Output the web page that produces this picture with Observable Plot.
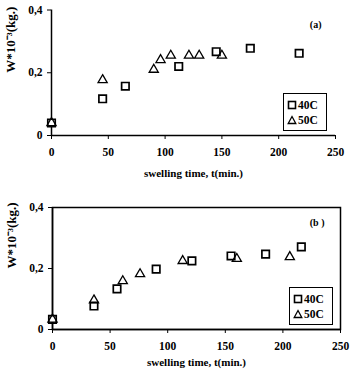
<!DOCTYPE html>
<html>
<head>
<meta charset="utf-8">
<script src="https://cdn.jsdelivr.net/npm/d3@7"></script>
<script src="https://cdn.jsdelivr.net/npm/@observablehq/plot@0.6"></script>
<style>
  body { margin: 0; background: #fff; }
  #wrap { position: relative; width: 352px; height: 370px; font-family: "Liberation Serif", serif; font-weight: bold; }
  .legend { position: absolute; border: 1.5px solid #000; background: #fff; font-size: 11.5px; box-sizing: border-box; }
  .legend .row { position: absolute; left: 3px; display: flex; align-items: center; gap: 1px; height: 12px; line-height: 12px; white-space: nowrap; }
</style>
</head>
<body>
<div id="wrap"></div>
<script>
// Panel (a)
const a40t = [0, 45, 65, 112, 145, 175, 218];
const a40w = [0.040, 0.117, 0.157, 0.220, 0.267, 0.278, 0.262];
const a50t = [0, 45, 90, 96, 105, 121, 130, 150];
const a50w = [0.040, 0.177, 0.210, 0.241, 0.255, 0.255, 0.255, 0.255];
// Panel (b)
const b40t = [0, 36, 56, 90, 121, 155, 185, 216];
const b40w = [0.033, 0.077, 0.133, 0.198, 0.225, 0.241, 0.247, 0.271];
const b50t = [0, 36, 61, 76, 113, 160, 206];
const b50w = [0.033, 0.096, 0.159, 0.182, 0.225, 0.232, 0.238];

const xTicks = [0, 50, 100, 150, 200, 250];
const yTicks = [0, 0.2, 0.4];
const seriesNames = ["40C", "50C"];
const panelLabels = ["(a)", "(b )"];
const xTitle = "swelling time, t(min.)";
const yTitle = "W*10⁻³(kg.)";

const toRows = (t, w) => t.map((d, i) => ({t: d, w: w[i]}));
const fmtY = d => d === 0 ? "0" : d.toFixed(1).replace(".", ",");

function panel(opts) {
  const {d40, d50, label, mt, mb, ml, mr, frame, labelDx, labelDy, titleDy} = opts;
  return Plot.plot({
    width: 352, height: 185,
    marginTop: mt, marginBottom: mb, marginLeft: ml, marginRight: mr,
    style: {fontFamily: "Liberation Serif", fontWeight: "bold", fontSize: "11px", color: "#000", background: "#fff"},
    x: {domain: [0, 250]},
    y: {domain: [0, 0.4]},
    marks: [
      frame ? Plot.frame({stroke: "#000", strokeWidth: 1.5}) : null,
      Plot.axisX({ticks: xTicks, tickFormat: d => d, tickSize: 4, tickPadding: 8, label: null, fontSize: 11.5, fontWeight: "bold"}),
      Plot.axisY({ticks: yTicks, tickFormat: fmtY, tickSize: 4, tickPadding: 5, label: null, fontSize: 11.5, fontWeight: "bold"}),
      Plot.ruleX([0], {stroke: "#000", strokeWidth: 1.5}),
      Plot.ruleY([0], {stroke: "#000", strokeWidth: 1.5}),
      Plot.dot(d50, {x: "t", y: "w", symbol: "triangle", r: 3.4, fill: "white", stroke: "#000", strokeWidth: 1.3}),
      Plot.dot(d40, {x: "t", y: "w", symbol: "square", r: 4.2, fill: "white", fillOpacity: 0, stroke: "#000", strokeWidth: 1.7}),
      Plot.text([label], {frameAnchor: "top-right", dx: labelDx, dy: labelDy, fontSize: 10, fontWeight: "bold"}),
      Plot.text([xTitle], {frameAnchor: "bottom", dy: titleDy, fontSize: 11, fontWeight: "bold", lineAnchor: "middle"}),
      Plot.text([yTitle], {frameAnchor: "left", rotate: -90, dx: -41, fontSize: 13, fontWeight: "bold", lineAnchor: "middle"})
    ]
  });
}

const wrap = document.getElementById("wrap");
const chartA = panel({d40: toRows(a40t, a40w), d50: toRows(a50t, a50w), label: panelLabels[0],
  mt: 9.5, mb: 50, ml: 51, mr: 17, frame: false, labelDx: -14, labelDy: 11, titleDy: 38});
const chartB = panel({d40: toRows(b40t, b40w), d50: toRows(b50t, b50w), label: panelLabels[1],
  mt: 22, mb: 41, ml: 52, mr: 12, frame: true, labelDx: -16, labelDy: 11, titleDy: 33});
chartA.style.display = "block"; chartB.style.display = "block";
wrap.appendChild(chartA); wrap.appendChild(chartB);

function legend(left, topPx, w, h) {
  const el = document.createElement("div");
  el.className = "legend";
  Object.assign(el.style, {left: left + "px", top: topPx + "px", width: w + "px", height: h + "px"});
  const sq = '<svg width="10" height="10"><rect x="1.5" y="1.5" width="7" height="7" fill="none" stroke="#000" stroke-width="1.6"/></svg>';
  const tr = '<svg width="10" height="10"><path d="M5 1.5 L8.8 8.5 L1.2 8.5 Z" fill="none" stroke="#000" stroke-width="1.3"/></svg>';
  el.innerHTML = `<div class="row" style="top:5px">${sq}<span>${seriesNames[0]}</span></div>` +
                 `<div class="row" style="top:20px">${tr}<span>${seriesNames[1]}</span></div>`;
  wrap.appendChild(el);
}
legend(283, 93, 44, 38);
legend(289, 287, 44, 38);
</script>
</body>
</html>
